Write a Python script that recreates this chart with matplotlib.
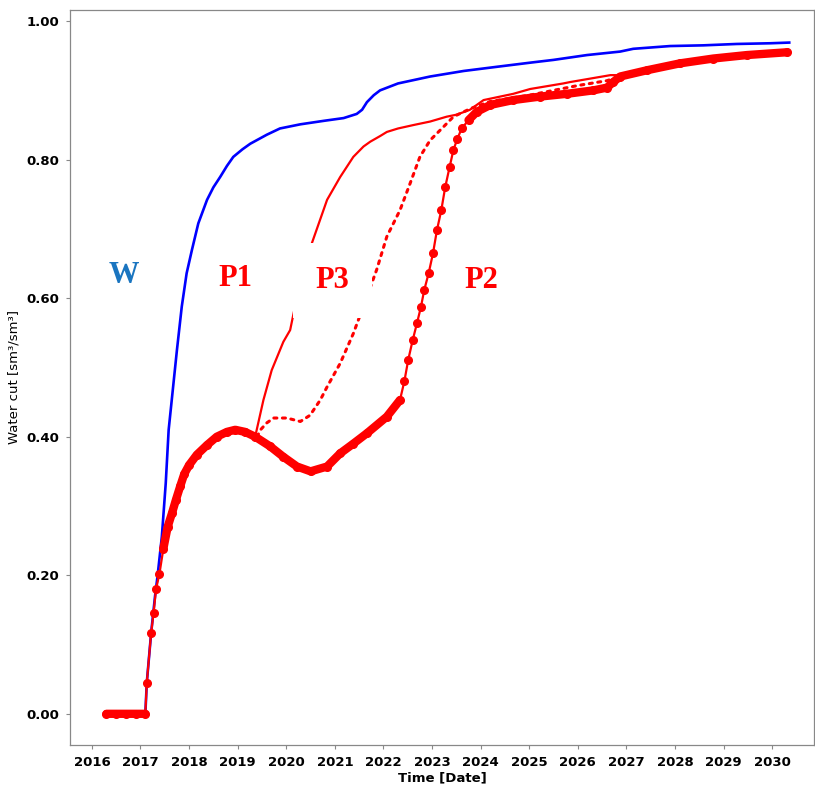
import numpy as np
import matplotlib
matplotlib.use("Agg")
import matplotlib.pyplot as plt

# W curve (blue)
w_year = [2016.3, 2017.1, 2017.13, 2017.22, 2017.3, 2017.35, 2017.44, 2017.52, 2017.58,
          2017.75, 2017.85, 2017.95, 2018.06, 2018.19, 2018.37, 2018.5, 2018.64, 2018.78,
          2018.91, 2019.1, 2019.26, 2019.6, 2019.87, 2020.29, 2020.77, 2021.18, 2021.45,
          2021.56, 2021.66, 2021.8, 2021.93, 2022.3, 2022.96, 2023.65, 2024.33, 2025.02,
          2025.5, 2026.19, 2026.87, 2027.14, 2027.9, 2028.58, 2029.27, 2029.96, 2030.35]
w_cut = [0.0, 0.0, 0.045, 0.117, 0.17, 0.198, 0.256, 0.333, 0.41,
         0.525, 0.588, 0.636, 0.67, 0.708, 0.742, 0.76, 0.775, 0.791,
         0.804, 0.815, 0.823, 0.836, 0.845, 0.851, 0.856, 0.86, 0.866,
         0.872, 0.883, 0.893, 0.9, 0.91, 0.92, 0.928, 0.934, 0.94,
         0.944, 0.951, 0.956, 0.96, 0.964, 0.965, 0.967, 0.968, 0.969]

# P2 curve (red, markers)
p2_year = [2016.3, 2016.5, 2016.7, 2016.9, 2017.1, 2017.13, 2017.22, 2017.27, 2017.32,
           2017.39, 2017.47, 2017.56, 2017.65, 2017.73, 2017.82, 2017.9, 2018.0, 2018.16,
           2018.37, 2018.57, 2018.78, 2018.95, 2019.15, 2019.36, 2019.67, 2019.94, 2020.22,
           2020.5, 2020.84, 2021.11, 2021.38, 2021.66, 2022.07, 2022.34, 2022.43, 2022.51,
           2022.6, 2022.69, 2022.77, 2022.84, 2022.93, 2023.02, 2023.1, 2023.19, 2023.27,
           2023.36, 2023.44, 2023.52, 2023.61, 2023.75, 2023.92, 2024.2, 2024.67, 2025.22,
           2025.77, 2026.32, 2026.6, 2026.73, 2026.87, 2027.42, 2028.1, 2028.79, 2029.48, 2030.3]
p2_cut = [0.0, 0.0, 0.0, 0.0, 0.0, 0.045, 0.117, 0.146, 0.18,
          0.202, 0.238, 0.27, 0.29, 0.309, 0.329, 0.346, 0.359, 0.374,
          0.388, 0.40, 0.407, 0.41, 0.407, 0.40, 0.386, 0.371, 0.357,
          0.35, 0.357, 0.376, 0.39, 0.405, 0.429, 0.453, 0.48, 0.511,
          0.539, 0.564, 0.587, 0.612, 0.636, 0.665, 0.698, 0.727, 0.76,
          0.789, 0.814, 0.83, 0.845, 0.857, 0.869, 0.879, 0.886, 0.891,
          0.895, 0.90, 0.904, 0.912, 0.92, 0.929, 0.939, 0.946, 0.951, 0.955]

# P1 curve (red, solid)
p1_year = [2019.36, 2019.53, 2019.7, 2019.94, 2020.08, 2020.18, 2020.49, 2020.84, 2021.11,
           2021.38, 2021.59, 2021.73, 2021.93, 2022.07, 2022.3, 2022.62, 2022.96, 2023.3,
           2023.51, 2023.78, 2024.06, 2024.67, 2025.02, 2025.7, 2025.84, 2026.67, 2026.87,
           2027.42, 2028.1, 2028.79, 2029.48, 2030.3]
p1_cut = [0.40, 0.453, 0.496, 0.537, 0.554, 0.588, 0.672, 0.742, 0.775,
          0.804, 0.819, 0.826, 0.834, 0.84, 0.845, 0.85, 0.855, 0.862,
          0.865, 0.872, 0.886, 0.895, 0.902, 0.91, 0.912, 0.922, 0.922,
          0.929, 0.939, 0.946, 0.951, 0.955]

# P3 curve (red, dotted)
p3_year = [2019.4, 2019.47, 2019.6, 2019.74, 2020.01, 2020.29, 2020.49, 2020.7, 2020.84,
           2021.11, 2021.38, 2021.56, 2021.86, 2022.07, 2022.34, 2022.55, 2022.75, 2022.96,
           2023.23, 2023.44, 2023.8, 2024.2, 2025.0, 2025.5, 2026.0, 2026.6, 2026.85,
           2027.42, 2028.1, 2028.79, 2029.48, 2030.3]
p3_cut = [0.40, 0.41, 0.42, 0.427, 0.427, 0.422, 0.431, 0.453, 0.472,
          0.506, 0.549, 0.583, 0.641, 0.689, 0.727, 0.766, 0.804, 0.828,
          0.847, 0.862, 0.874, 0.884, 0.893, 0.9, 0.907, 0.914, 0.92,
          0.929, 0.939, 0.946, 0.951, 0.955]

years = list(range(2016, 2031))
yticks = [0.0, 0.2, 0.4, 0.6, 0.8, 1.0]

# labels on the plot: (text, x, y, colour)
labels = [("W", 2016.65, 0.633, "#1a75c0"),
          ("P1", 2018.95, 0.629, "red"),
          ("P3", 2020.95, 0.626, "red"),
          ("P2", 2024.01, 0.625, "red")]

fig = plt.figure(figsize=(8.15, 7.89), dpi=100)
ax = fig.add_axes([0.0859, 0.0558, 0.9129, 0.9315])

p2x = np.array(p2_year)
p2y = np.array(p2_cut)
# markers overlap into a thick band where points are close together
steep = ((p2x > 2017.12) & (p2x < 2017.45)) | ((p2x > 2022.38) & (p2x < 2023.65))
band = np.where(steep, np.nan, p2y)

ax.plot(w_year, w_cut, color="#0000ff", lw=1.9, zorder=1)
ax.plot(p2x, band, color="red", lw=6, solid_capstyle="round", zorder=2)
ax.plot(p2x, p2y, color="red", lw=1.6, marker="o", ms=5.5, mec="red", zorder=3)
ax.plot(p1_year, p1_cut, color="red", lw=1.6, zorder=4)
ax.plot(p3_year, p3_cut, color="red", lw=2.2, dashes=(1.0, 1.8),
        dash_capstyle="round", zorder=4)

for txt, x, y, c in labels:
    kw = dict(ha="center", va="center", fontsize=22, fontweight="bold",
              family=["Liberation Serif", "DejaVu Serif"], color=c, zorder=6)
    if txt == "P3":
        kw["bbox"] = dict(boxstyle="square,pad=0.75", fc="white", ec="none")
    ax.text(x, y, txt, **kw)

ax.set_xlim(2015.55, 2030.86)
ax.set_ylim(-0.045, 1.016)
ax.set_xticks(years)
ax.set_xticklabels([str(y) for y in years])
ax.set_yticks(yticks)
ax.set_yticklabels([f"{v:.2f}" for v in yticks])

for lab in ax.get_xticklabels() + ax.get_yticklabels():
    lab.set_fontweight("bold")
    lab.set_fontsize(9.5)
ax.tick_params(length=3, width=0.8, color="#888888", pad=5)
for s in ax.spines.values():
    s.set_color("#888888")
    s.set_linewidth(0.9)

ax.set_xlabel("Time [Date]", fontsize=9.5, fontweight="bold", labelpad=2)
ax.set_ylabel("Water cut [sm³/sm³]", fontsize=9.5, labelpad=4)

fig.savefig("out.png", dpi=100)
